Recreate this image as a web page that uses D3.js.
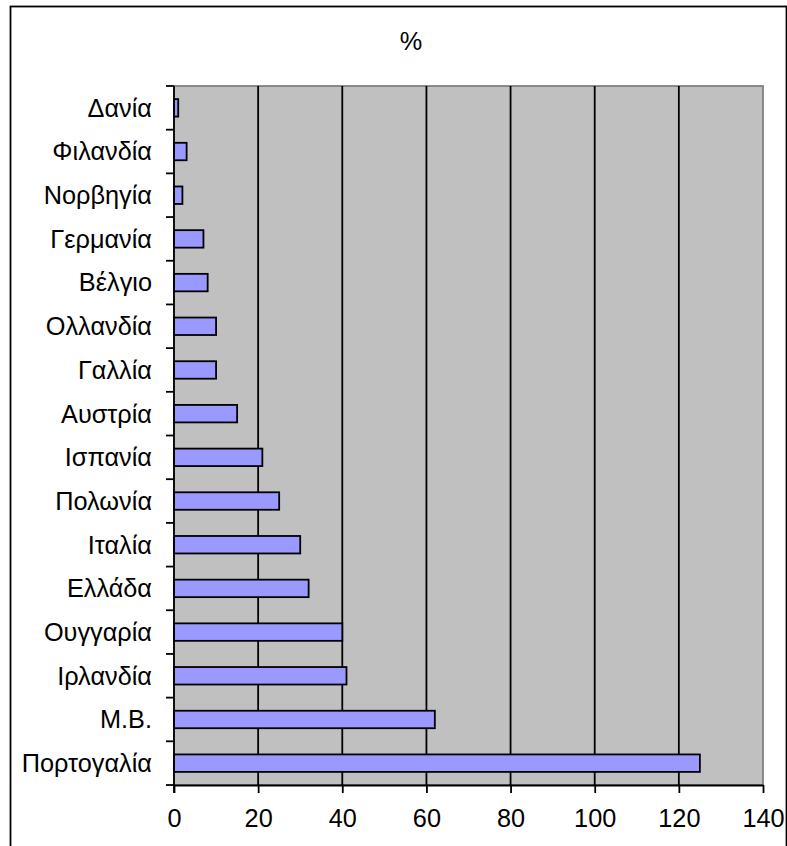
<!DOCTYPE html>
<html>
<head>
<meta charset="utf-8">
<script src="https://cdn.jsdelivr.net/npm/d3@7"></script>
<style>
  html, body { margin: 0; padding: 0; background: #fff; }
  svg { display: block; font-family: "Liberation Sans", Arial, sans-serif; }
</style>
</head>
<body>
<svg id="chart" width="787" height="846"></svg>
<script>
// Countries, listed top to bottom
const countries = ["Δανία", "Φιλανδία", "Νορβηγία", "Γερμανία", "Βέλγιο", "Ολλανδία", "Γαλλία",
  "Αυστρία", "Ισπανία", "Πολωνία", "Ιταλία", "Ελλάδα", "Ουγγαρία", "Ιρλανδία", "Μ.Β.", "Πορτογαλία"];
// Percentage per country
const values = [1, 3, 2, 7, 8, 10, 10, 15, 21, 25, 30, 32, 40, 41, 62, 125];
// Axis ticks
const xTicks = [0, 20, 40, 60, 80, 100, 120, 140];
const title = "%";

const FONT = 25.3;
const LINE = 1.8;
const svg = d3.select("#chart");
const plot = { left: 174, right: 763, top: 86, bottom: 785 };

const x = d3.scaleLinear().domain([0, 140]).range([plot.left, plot.right]);
const y = d3.scaleBand().domain(countries).range([plot.top, plot.bottom]).padding(0);

// Outer chart frame
svg.append("rect")
  .attr("x", 10.5).attr("y", 6.5).attr("width", 776).attr("height", 860)
  .attr("fill", "none").attr("stroke", "#000").attr("stroke-width", LINE);

// Plot background with grey frame
svg.append("rect")
  .attr("x", plot.left).attr("y", plot.top)
  .attr("width", plot.right - plot.left).attr("height", plot.bottom - plot.top)
  .attr("fill", "#C0C0C0").attr("stroke", "#808080").attr("stroke-width", LINE);

// Vertical gridlines
svg.append("g").selectAll("line")
  .data(xTicks.filter(d => d > 0 && d < 140))
  .join("line")
  .attr("x1", d => x(d)).attr("x2", d => x(d))
  .attr("y1", plot.top).attr("y2", plot.bottom)
  .attr("stroke", "#000").attr("stroke-width", LINE);

// Bars
const barH = y.bandwidth() * 0.4;
svg.append("g").selectAll("rect")
  .data(countries.map((c, i) => ({ c, v: values[i] })))
  .join("rect")
  .attr("x", x(0))
  .attr("y", d => y(d.c) + (y.bandwidth() - barH) / 2)
  .attr("width", d => x(d.v) - x(0))
  .attr("height", barH)
  .attr("fill", "#9999FF")
  .attr("stroke", "#000")
  .attr("stroke-width", LINE);

// X axis
const xAxis = svg.append("g")
  .attr("transform", `translate(0,${plot.bottom})`)
  .call(d3.axisBottom(x).tickValues(xTicks).tickSize(8).tickPadding(16).tickSizeOuter(0));
xAxis.select(".domain").attr("stroke", "#000").attr("stroke-width", LINE);
xAxis.selectAll(".tick line").attr("stroke", "#000").attr("stroke-width", LINE);
xAxis.selectAll(".tick text").attr("font-size", FONT).attr("fill", "#000")
  .attr("font-family", "Liberation Sans, Arial, sans-serif");

// Y axis: ticks at category boundaries
const yAxisG = svg.append("g");
yAxisG.append("line")
  .attr("x1", plot.left).attr("x2", plot.left)
  .attr("y1", plot.top).attr("y2", plot.bottom + 8)
  .attr("stroke", "#000").attr("stroke-width", LINE);
const bounds = countries.map(c => y(c)).concat([plot.bottom]);
yAxisG.selectAll("line.tick")
  .data(bounds)
  .join("line")
  .attr("class", "tick")
  .attr("x1", plot.left - 8).attr("x2", plot.left)
  .attr("y1", d => d).attr("y2", d => d)
  .attr("stroke", "#000").attr("stroke-width", LINE);
yAxisG.selectAll("text")
  .data(countries)
  .join("text")
  .attr("x", plot.left - 22)
  .attr("y", d => y(d) + y.bandwidth() / 2)
  .attr("dy", "0.35em")
  .attr("text-anchor", "end")
  .attr("font-size", FONT)
  .attr("fill", "#000")
  .text(d => d);

// Title
svg.append("text")
  .attr("x", 411).attr("y", 50)
  .attr("text-anchor", "middle")
  .attr("font-size", FONT)
  .attr("fill", "#000")
  .text(title);
</script>
</body>
</html>
